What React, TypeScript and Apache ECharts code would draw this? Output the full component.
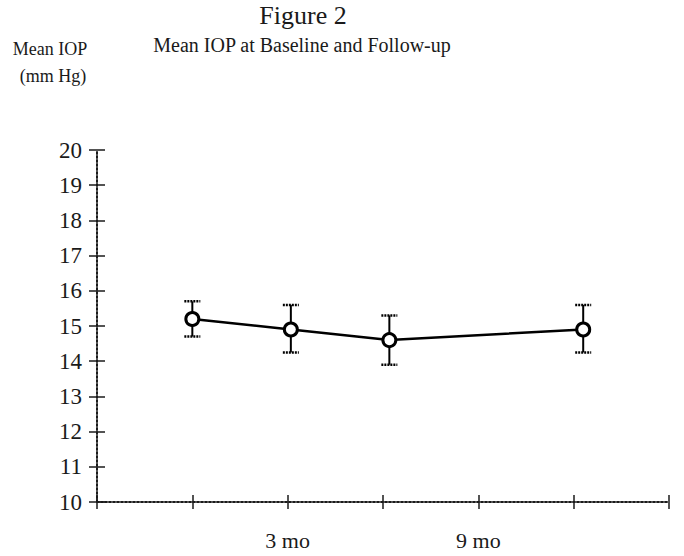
import React, { useEffect, useRef } from "react";
import * as echarts from "echarts";

const monthValues = [0, 3.1, 6.2, 12.3];
const meanIop = [15.2, 14.9, 14.6, 14.9];
const errorLow = [14.7, 14.25, 13.9, 14.25];
const errorHigh = [15.7, 15.6, 15.3, 15.6];
const xTickLabels: Record<string, string> = { "3": "3 mo", "9": "9 mo" };
const titleLine1 = "Figure 2";
const titleLine2 = "Mean IOP at Baseline and Follow-up";
const yName1 = "Mean IOP";
const yName2 = "(mm Hg)";

const FONT = "'Liberation Serif', 'DejaVu Serif', serif";
const INK = "#1a1a1a";

export default function App() {
  const ref = useRef<HTMLDivElement>(null);
  useEffect(() => {
    if (!ref.current) return;
    const chart = echarts.init(ref.current, null, { renderer: "svg" });
    const lineData = monthValues.map((m, i) => [m, meanIop[i]]);
    const errData = monthValues.map((m, i) => [m, errorLow[i], errorHigh[i]]);
    const axisLabelStyle = { fontFamily: FONT, fontSize: 23, color: INK };
    chart.setOption({
      animation: false,
      backgroundColor: "#ffffff",
      grid: { left: 97, right: 15, top: 150, bottom: 54, containLabel: false },
      graphic: [
        { type: "text", x: 303, y: 2, style: { text: titleLine1, font: `26px ${FONT}`, fill: INK, textAlign: "center" } },
        { type: "text", x: 302, y: 35, style: { text: titleLine2, font: `20px ${FONT}`, fill: INK, textAlign: "center" } },
        { type: "text", x: 50, y: 40, style: { text: yName1, font: `18px ${FONT}`, fill: INK, textAlign: "center" } },
        { type: "text", x: 53, y: 67, style: { text: yName2, font: `18px ${FONT}`, fill: INK, textAlign: "center" } },
      ],
      xAxis: [
        {
          type: "value",
          min: -3,
          max: 15,
          interval: 3,
          axisLine: { show: true, onZero: false, lineStyle: { color: INK, width: 2, type: "dotted" } },
          axisTick: { show: true, length: 7, lineStyle: { color: INK, width: 1.5 } },
          axisLabel: {
            ...axisLabelStyle,
            fontSize: 22,
            margin: 27,
            formatter: (v: number) => xTickLabels[String(v)] || "",
          },
          splitLine: { show: false },
        },
        {
          type: "value",
          min: -3,
          max: 15,
          interval: 3,
          position: "bottom",
          axisLine: { show: false, onZero: false },
          axisTick: { show: true, inside: true, length: 7, lineStyle: { color: INK, width: 1.5 } },
          axisLabel: { show: false },
          splitLine: { show: false },
        },
      ],
      yAxis: [
        {
          type: "value",
          min: 10,
          max: 20,
          interval: 1,
          axisLine: { show: true, onZero: false, lineStyle: { color: INK, width: 2, type: "dotted" } },
          axisTick: { show: true, length: 8, lineStyle: { color: INK, width: 1.5 } },
          axisLabel: { ...axisLabelStyle, margin: 15 },
          splitLine: { show: false },
        },
        {
          type: "value",
          min: 10,
          max: 20,
          interval: 1,
          position: "left",
          axisLine: { show: false, onZero: false },
          axisTick: { show: true, inside: true, length: 8, lineStyle: { color: INK, width: 1.5 } },
          axisLabel: { show: false },
          splitLine: { show: false },
        },
      ],
      series: [
        {
          type: "custom",
          z: 2,
          data: errData,
          encode: { x: 0, y: [1, 2] },
          renderItem: (params: any, api: any) => {
            const x = api.value(0);
            const lo = api.coord([x, api.value(1)]);
            const hi = api.coord([x, api.value(2)]);
            const w = 8;
            const st = { stroke: "#000", lineWidth: 2 };
            const cap = { stroke: "#000", lineWidth: 2.5, lineDash: [2, 1] };
            return {
              type: "group",
              children: [
                { type: "line", shape: { x1: lo[0], y1: lo[1], x2: hi[0], y2: hi[1] }, style: st },
                { type: "line", shape: { x1: hi[0] - w, y1: hi[1], x2: hi[0] + w, y2: hi[1] }, style: cap },
                { type: "line", shape: { x1: lo[0] - w, y1: lo[1], x2: lo[0] + w, y2: lo[1] }, style: cap },
              ],
            };
          },
        },
        {
          type: "line",
          z: 3,
          data: lineData,
          symbol: "circle",
          symbolSize: 13,
          lineStyle: { color: "#000", width: 2.5 },
          itemStyle: { color: "#ffffff", borderColor: "#000", borderWidth: 3 },
        },
      ],
    });
    return () => chart.dispose();
  }, []);
  return (
    <div
      ref={ref}
      style={{ position: "fixed", left: 0, top: 0, width: 684, height: 556, background: "#fff" }}
    />
  );
}
